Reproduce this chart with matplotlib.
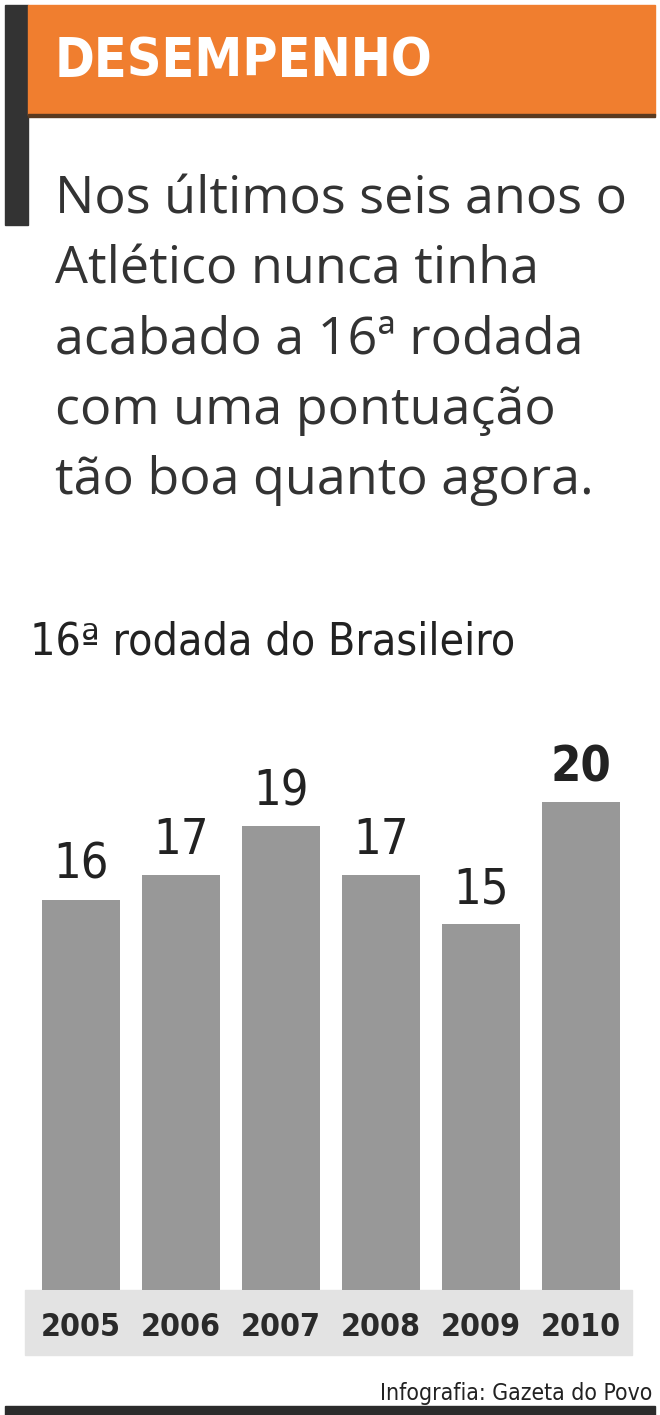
import matplotlib
matplotlib.use("Agg")
import matplotlib.pyplot as plt
from matplotlib.patches import Rectangle

W, H = 660, 1415

anos = ["2005", "2006", "2007", "2008", "2009", "2010"]
pontos = [16, 17, 19, 17, 15, 20]

titulo = "DESEMPENHO"
texto = ["Nos últimos seis anos o",
         "Atlético nunca tinha",
         "acabado a 16ª rodada",
         "com uma pontuação",
         "tão boa quanto agora."]
subtitulo = "16ª rodada do Brasileiro"
fonte = "Infografia: Gazeta do Povo"

LARANJA = "#f07e2f"
CINZA = "#989898"
ESCURO = "#2b2b2b"
NARROW = dict(family="DejaVu Sans", fontstretch="condensed")


def fx(px):
    return px / W


def fy(py):
    return 1 - py / H


fig = plt.figure(figsize=(W / 100, H / 100), dpi=100)
fig.patch.set_facecolor("white")

# cabecalho
fig.patches.append(Rectangle((fx(5), fy(225)), fx(23), 220 / H,
                             transform=fig.transFigure, color="#333333"))
fig.patches.append(Rectangle((fx(28), fy(115)), fx(627), 110 / H,
                             transform=fig.transFigure, color=LARANJA))
fig.patches.append(Rectangle((fx(28), fy(117)), fx(627), 3 / H,
                             transform=fig.transFigure, color="#5a3a20"))
fig.text(fx(55), fy(76), titulo, color="white", fontsize=38.5,
         fontweight="bold", va="baseline", **NARROW)

for i, linha in enumerate(texto):
    fig.text(fx(55), fy(214 + i * 70), linha, color="#333333", fontsize=37.5,
             family=["Open Sans", "DejaVu Sans"], va="baseline")

fig.text(fx(30), fy(655), subtitulo, color="#222222", fontsize=32,
         va="baseline", **NARROW)

# faixa dos anos
fig.patches.append(Rectangle((fx(25), fy(1355)), fx(607), 65 / H,
                             transform=fig.transFigure, color="#e3e3e3",
                             zorder=-1))

# grafico
ax_bottom, ax_top = 1290, 700
ax = fig.add_axes([fx(25), fy(ax_bottom), fx(610), (ax_bottom - ax_top) / H])
ax.patch.set_alpha(0)
x = list(range(len(anos)))
ax.bar(x, pontos, width=0.78, color=CINZA)
ax.set_xlim(-0.56, 5.54)
ax.set_ylim(0, (ax_bottom - ax_top) / 24.4)
ax.axis("off")

for xi, v in zip(x, pontos):
    ax.text(xi, v + 0.45, str(v), ha="center", va="bottom", fontsize=35,
            fontweight="bold" if v == max(pontos) else "normal",
            color="#222222", **NARROW)

for xi, a in zip(x, anos):
    ax.text(xi, -1.52, a, ha="center", va="center", fontsize=23,
            fontweight="bold", color="#2a2a2a", clip_on=False, **NARROW)

fig.text(fx(652), fy(1400), fonte, ha="right", va="baseline", fontsize=16.5,
         color="#222222", **NARROW)

fig.patches.append(Rectangle((fx(5), 0), fx(650), 9 / H,
                             transform=fig.transFigure, color=ESCURO))

fig.savefig("out.png", dpi=100)
